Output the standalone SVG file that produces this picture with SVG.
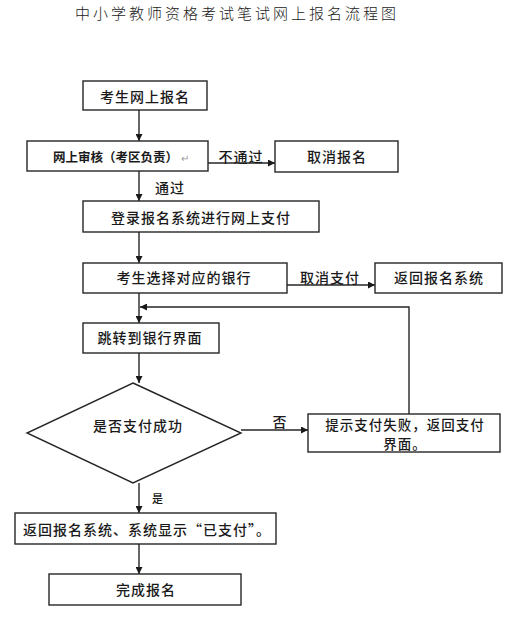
<svg xmlns="http://www.w3.org/2000/svg" width="517" height="618" viewBox="0 0 517 618">
<style>
text{font-family:"Noto Sans CJK SC","Liberation Sans",sans-serif;fill:#1a1a1a;}
.t{font-size:14px;letter-spacing:1px;text-anchor:middle;dominant-baseline:central;font-weight:500;}
.title{font-size:15px;letter-spacing:3px;font-weight:300;}
.box{fill:#fff;stroke:#262626;stroke-width:1.4;}
.ln{fill:none;stroke:#262626;stroke-width:1.4;}
</style>
<defs>
<marker id="ah" viewBox="0 0 10 10" refX="10" refY="5" markerWidth="7" markerHeight="7" orient="auto" markerUnits="userSpaceOnUse">
<path d="M0,0 L10,5 L0,10 z" fill="#1a1a1a"/>
</marker>
</defs>
<rect width="517" height="618" fill="#fff"/>
<text class="title" x="75" y="19">中小学教师资格考试笔试网上报名流程图</text>

<g id="connectors">
<line class="ln" x1="139" y1="110" x2="139" y2="141" marker-end="url(#ah)"/>
<line class="ln" x1="208" y1="163" x2="275" y2="163" marker-end="url(#ah)"/>
<text class="t" x="241" y="156">不通过</text>
<line class="ln" x1="139" y1="171" x2="139" y2="201" marker-end="url(#ah)"/>
<text class="t" x="170" y="187">通过</text>
<line class="ln" x1="139" y1="232" x2="139" y2="263" marker-end="url(#ah)"/>
<line class="ln" x1="287" y1="285" x2="375" y2="285" marker-end="url(#ah)"/>
<text class="t" x="330" y="277">取消支付</text>
<line class="ln" x1="139" y1="293" x2="139" y2="323" marker-end="url(#ah)"/>
<polyline class="ln" points="409,414 409,307 140,307" marker-end="url(#ah)"/>
<line class="ln" x1="139" y1="353" x2="139" y2="383" marker-end="url(#ah)"/>
<line class="ln" x1="241" y1="430" x2="308" y2="430" marker-end="url(#ah)"/>
<text class="t" x="280" y="421">否</text>
<line class="ln" x1="139" y1="483" x2="139" y2="513" marker-end="url(#ah)"/>
<text class="t" x="158" y="498" style="font-size:11px">是</text>
<line class="ln" x1="139" y1="544" x2="139" y2="574" marker-end="url(#ah)"/>
</g>

<g id="n1"><rect class="box" x="83" y="81" width="124" height="29"/><text class="t" x="145" y="96">考生网上报名</text></g>
<g id="n2"><rect class="box" x="27" y="141" width="181" height="30"/>
<text x="53" y="156" style="font-size:12.5px;font-weight:bold;dominant-baseline:central">网上审核（考区负责）</text>
<text x="181" y="157" style="font-size:10px;fill:#999;dominant-baseline:central">↵</text></g>
<g id="n3"><rect class="box" x="275" y="141" width="123" height="31"/><text class="t" x="337" y="156">取消报名</text></g>
<g id="n4"><rect class="box" x="83" y="201" width="236" height="31"/><text class="t" x="201" y="217">登录报名系统进行网上支付</text></g>
<g id="n5"><rect class="box" x="83" y="263" width="204" height="30"/><text class="t" x="184" y="277">考生选择对应的银行</text></g>
<g id="n6"><rect class="box" x="375" y="263" width="127" height="30"/><text class="t" x="439" y="277">返回报名系统</text></g>
<g id="n7"><rect class="box" x="83" y="323" width="136" height="30"/><text class="t" x="150" y="337">跳转到银行界面</text></g>
<g id="n8"><polygon class="box" points="133,383 241,433 133,483 27,433"/><text class="t" x="138" y="425">是否支付成功</text></g>
<g id="n9"><rect class="box" x="308" y="414" width="192" height="38"/>
<text class="t" x="405" y="424" style="font-size:13.5px">提示支付失败，返回支付</text><text class="t" x="405" y="443" style="font-size:13.5px">界面。</text></g>
<g id="n10"><rect class="box" x="15" y="513" width="261" height="31"/><text class="t" x="147" y="529">返回报名系统、系统显示“已支付”。</text></g>
<g id="n11"><rect class="box" x="49" y="574" width="192" height="31"/><text class="t" x="146" y="589">完成报名</text></g>
</svg>
